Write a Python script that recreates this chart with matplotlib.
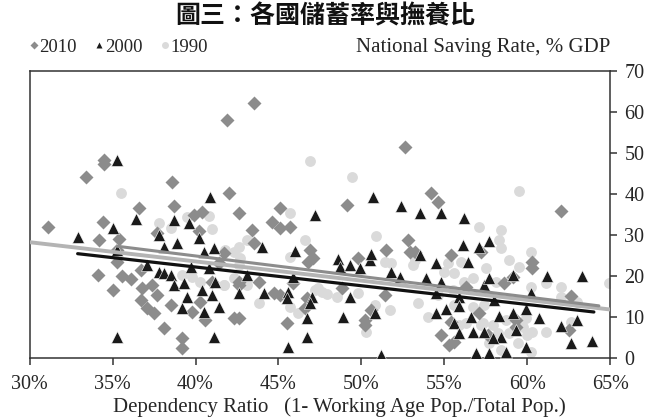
import matplotlib
matplotlib.use("Agg")
import matplotlib.pyplot as plt
from matplotlib.ticker import PercentFormatter
from matplotlib.lines import Line2D

# 2010 (diamonds): dependency ratio %, saving rate % GDP
x_2010 = [43.5, 41.9, 52.6, 34.5, 34.5, 33.4, 38.6, 42.0, 54.2, 54.6, 62.0, 36.6,
          38.7, 31.1, 34.4, 39.9, 40.4, 42.6, 40.2, 37.7, 34.2, 35.4, 45.1, 44.6,
          45.1, 45.7, 43.4, 49.1, 43.5, 46.9, 47.1, 46.8, 49.8, 51.5, 52.8, 52.9,
          42.6, 43.8, 44.7, 45.1, 46.7, 45.9, 42.6, 45.5, 50.2, 50.2, 51.4, 50.6,
          48.8, 55.4, 57.2, 60.3, 60.3, 53.2, 58.6, 59.1, 62.6, 57.1, 55.4, 54.8,
          55.6, 55.3, 59.3, 59.3, 62.5, 57.6, 56.3, 34.1, 35.0, 35.6, 36.1, 36.8,
          36.7, 37.4, 37.7, 37.1, 37.5, 38.5, 38.1, 39.2, 39.2, 39.8, 40.3, 40.6,
          41.0, 41.4, 42.3, 42.6, 35.3, 35.3, 36.7, 41.7, 46.6]
y_2010 = [62.0, 57.9, 51.3, 48.2, 47.2, 44.0, 42.8, 40.1, 40.1, 38.0, 35.8, 36.5,
          37.0, 31.9, 33.1, 34.8, 35.5, 35.3, 30.9, 30.4, 28.7, 29.0, 36.5, 33.1,
          31.6, 31.9, 31.1, 37.2, 28.0, 26.3, 24.3, 23.4, 24.3, 26.3, 28.7, 25.8,
          18.5, 18.5, 15.8, 15.3, 14.6, 18.2, 9.7, 8.5, 9.2, 8.0, 15.3, 11.7,
          17.0, 25.1, 25.8, 23.4, 21.9, 25.8, 18.2, 19.7, 15.1, 10.9, 8.8, 5.6,
          3.9, 3.2, 9.2, 7.5, 6.8, 5.6, 17.3, 20.2, 16.5, 20.0, 19.2, 17.0,
          14.1, 17.8, 15.3, 12.2, 10.9, 12.9, 7.3, 4.9, 2.4, 11.2, 13.6, 9.2,
          18.5, 23.1, 9.7, 17.8, 26.3, 23.4, 21.4, 25.5, 12.2]

# 2000 (triangles)
x_2000 = [35.3, 40.9, 36.4, 38.7, 39.6, 35.0, 50.7, 52.4, 53.5, 54.8, 56.2, 47.2,
          32.9, 37.8, 38.9, 40.2, 41.1, 40.5, 38.1, 35.3, 37.1, 37.8, 38.1, 38.5,
          38.7, 39.3, 39.5, 39.2, 40.5, 41.0, 41.4, 40.4, 41.2, 42.6, 35.3, 41.1,
          39.7, 40.8, 44.0, 46.0, 43.1, 45.9, 44.1, 45.6, 45.5, 47.0, 46.9, 46.7,
          46.7, 45.6, 48.6, 48.7, 49.3, 49.9, 50.5, 50.6, 49.3, 48.9, 50.8, 51.2,
          51.8, 52.3, 53.5, 56.1, 57.1, 57.7, 54.5, 56.4, 53.9, 54.8, 57.4, 57.7,
          59.1, 61.2, 63.3, 54.5, 55.9, 58.0, 60.2, 54.5, 55.1, 55.9, 56.6, 58.3,
          59.1, 59.9, 60.7, 63.0, 62.0, 55.6, 55.9, 56.7, 57.4, 58.4, 59.3, 59.9,
          62.6, 63.9, 56.9, 57.7, 58.7, 57.9]
y_2000 = [48.2, 39.2, 33.8, 33.6, 32.8, 31.6, 39.2, 37.0, 35.3, 35.3, 34.1, 34.8,
          29.4, 29.9, 28.0, 29.2, 26.8, 25.8, 27.0, 26.3, 22.6, 20.9, 20.7, 20.2,
          17.8, 18.2, 14.8, 12.2, 11.2, 15.3, 12.4, 16.5, 18.5, 15.8, 5.1, 5.1,
          22.1, 21.9, 27.0, 26.0, 20.2, 19.7, 15.8, 16.1, 14.6, 14.8, 13.4, 9.7,
          5.1, 2.7, 24.1, 22.1, 22.6, 21.9, 23.8, 25.3, 14.8, 10.0, 10.9, 0.7,
          20.9, 19.7, 25.1, 27.5, 27.0, 28.5, 23.1, 23.4, 19.5, 18.5, 17.8, 19.5,
          20.2, 20.0, 20.0, 15.8, 14.8, 14.1, 15.8, 10.9, 11.9, 12.7, 10.0, 10.2,
          10.9, 11.9, 9.7, 9.2, 7.8, 8.5, 6.1, 6.3, 6.3, 5.1, 6.8, 2.7,
          3.6, 4.1, 1.2, 1.2, 1.5, 4.9]

# 1990 (circles)
x_1990 = [35.5, 37.8, 39.5, 40.8, 38.5, 41.0, 46.9, 49.4, 45.7, 59.5, 42.3, 42.6,
          39.2, 39.8, 40.3, 41.7, 42.3, 43.1, 42.6, 46.6, 45.7, 43.1, 43.8, 45.7,
          46.2, 47.6, 48.5, 49.8, 50.9, 51.4, 51.8, 53.1, 53.4, 51.7, 50.8, 50.3,
          47.2, 57.1, 58.4, 58.3, 58.4, 60.2, 58.9, 59.5, 53.2, 55.2, 56.0, 55.6,
          55.0, 57.5, 56.2, 56.7, 58.1, 60.2, 61.1, 62.0, 64.9, 62.0, 63.0, 54.0,
          55.6, 56.7, 57.4, 57.3, 56.3, 57.9, 58.7, 59.9, 59.7, 58.9, 60.0, 60.3,
          61.1, 62.6, 57.7, 58.4, 59.4, 60.2, 54.6, 55.5, 55.9, 57.2, 58.2, 41.7,
          41.8, 42.7, 47.4, 47.9]
y_1990 = [40.1, 32.8, 34.3, 34.5, 31.6, 31.4, 47.9, 44.0, 35.3, 40.6, 25.8, 22.6,
          20.2, 19.7, 18.5, 17.8, 19.5, 28.7, 27.0, 28.7, 24.6, 17.8, 13.4, 12.4,
          10.9, 16.1, 14.8, 15.8, 29.7, 23.4, 23.1, 22.6, 13.4, 11.7, 12.9, 6.3,
          16.5, 31.9, 31.1, 28.7, 26.8, 25.8, 23.8, 22.1, 23.8, 23.1, 23.4, 20.7,
          20.9, 21.9, 18.5, 19.5, 18.5, 17.3, 18.2, 17.3, 18.2, 14.8, 13.6, 10.0,
          12.9, 12.4, 12.9, 8.5, 8.5, 8.0, 9.2, 9.7, 7.5, 6.1, 5.6, 6.3,
          6.3, 8.8, 3.6, 1.9, 3.6, 1.5, 15.3, 16.5, 8.0, 8.0, 6.1, 17.8,
          26.3, 24.3, 17.0, 15.6]

# trend lines (end points)
trend_1990_x = [30.0, 65.0]
trend_1990_y = [28.2, 11.8]
trend_2010_x = [35.3, 64.3]
trend_2010_y = [27.2, 12.7]
trend_2000_x = [32.9, 64.0]
trend_2000_y = [25.4, 11.2]

c_2010 = "#8c8c8c"
c_2000 = "#1a1a1a"
c_1990 = "#dadada"
txt = "#262626"

plt.rcParams["font.family"] = ["Liberation Serif", "DejaVu Sans"]

fig = plt.figure(figsize=(6.5, 4.19), dpi=100)
ax = fig.add_axes([0.0454, 0.1456, 0.8938, 0.6861])

ax.plot(x_1990, y_1990, "o", ms=7.8, color=c_1990, mec="none", zorder=2)
ax.plot(x_2010, y_2010, "D", ms=7.6, color=c_2010, mec="none", zorder=3)
ax.plot(x_2000, y_2000, "^", ms=8.2, color=c_2000, mec="white", mew=0.4, zorder=4)

ax.plot(trend_1990_x, trend_1990_y, color="#b4b4b4", lw=2.8, solid_capstyle="round", zorder=5)
ax.plot(trend_2010_x, trend_2010_y, color="#8c8c8c", lw=2.2, solid_capstyle="round", zorder=6)
ax.plot(trend_2000_x, trend_2000_y, color="#111111", lw=2.3, solid_capstyle="round", zorder=7)

ax.set_xlim(30, 65)
ax.set_ylim(0, 70)
ax.set_xticks(range(30, 66, 5))
ax.set_yticks(range(0, 71, 10))
ax.xaxis.set_major_formatter(PercentFormatter(decimals=0))
ax.yaxis.tick_right()
ax.tick_params(axis="both", direction="out", length=5, width=1.1, color="#333333",
               labelsize=14.5, labelcolor=txt)
ax.tick_params(axis="x", pad=7)
ax.tick_params(axis="y", pad=5)
for s in ax.spines.values():
    s.set_color("#333333")
    s.set_linewidth(1.1)

ax.set_xlabel("Dependency Ratio   (1- Working Age Pop./Total Pop.)", fontsize=15,
              color=txt, labelpad=3)
ax.xaxis.set_label_coords(0.534, -0.135)

fig.text(0.5, 0.962, "圖三：各國儲蓄率與撫養比", ha="center", va="center", fontsize=18,
         fontweight="heavy", family=["Noto Sans CJK TC", "DejaVu Sans"], color="#111111")
fig.text(0.939, 0.887, "National Saving Rate, % GDP", ha="right", va="center",
         fontsize=15, color=txt)

handles = [Line2D([], [], ls="none", marker="D", ms=4, color=c_2010, mec="none"),
           Line2D([], [], ls="none", marker="^", ms=5, color=c_2000, mec="none"),
           Line2D([], [], ls="none", marker="o", ms=5, color=c_1990, mec="none")]
fig.legend(handles, ["2010", "2000", "1990"], loc="center left",
           bbox_to_anchor=(0.04, 0.887), ncol=3, frameon=False, fontsize=13.5,
           handlelength=0.4, handletextpad=0.1, columnspacing=1.0, labelcolor=txt,
           borderpad=0.2, borderaxespad=0)

fig.savefig("out.png", dpi=100)
